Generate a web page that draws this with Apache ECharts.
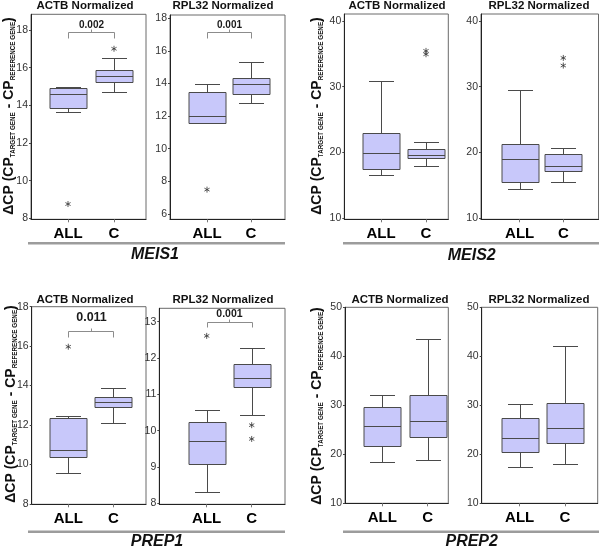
<!DOCTYPE html>
<html><head><meta charset="utf-8">
<script src="https://cdn.jsdelivr.net/npm/echarts@6/dist/echarts.min.js"></script>
<style>html,body{margin:0;padding:0;background:#fff}#c{width:600px;height:550px}</style>
</head><body><div id="c"></div>
<script>
// ---------- DATA ----------
const categories = ['ALL', 'C'];
const genes = ['MEIS1', 'MEIS2', 'PREP1', 'PREP2'];
const refTitles = ['ACTB Normalized', 'RPL32 Normalized'];

// box values per category: [min, Q1, median, Q3, max]
const meis1ActbBoxes  = [[13.66, 13.88, 14.62, 14.93, 14.96], [14.69, 15.22, 15.54, 15.86, 16.50]];
const meis1Rpl32Boxes = [[11.58, 11.59, 11.99, 13.46, 13.97], [12.83, 13.34, 13.95, 14.34, 15.30]];
const meis2ActbBoxes  = [[16.58, 17.50, 19.93, 22.92, 30.93], [17.95, 19.17, 19.57, 20.44, 21.60]];
const meis2Rpl32Boxes = [[14.46, 15.42, 18.92, 21.20, 29.46], [15.42, 17.14, 17.85, 19.68, 20.59]];
const prep1ActbBoxes  = [[9.55, 10.36, 10.75, 12.37, 12.44], [12.09, 12.90, 13.19, 13.44, 13.88]];
const prep1Rpl32Boxes = [[8.30, 9.07, 9.72, 10.23, 10.58], [10.42, 11.21, 11.46, 11.84, 12.29]];
const prep2ActbBoxes  = [[18.50, 21.70, 25.85, 29.73, 32.04], [18.78, 23.61, 26.87, 32.04, 43.61]];
const prep2Rpl32Boxes = [[17.35, 20.41, 23.27, 27.48, 30.34], [18.10, 22.24, 25.37, 30.41, 42.04]];

// outliers: [category, value]
const meis1ActbOutliers  = [['ALL', 8.76], ['C', 17.0]];
const meis1Rpl32Outliers = [['ALL', 7.49]];
const meis2ActbOutliers  = [['C', 35.44], ['C', 34.93]];
const meis2Rpl32Outliers = [['C', 34.37], ['C', 33.21]];
const prep1ActbOutliers  = [['ALL', 15.97]];
const prep1Rpl32Outliers = [['ALL', 12.61], ['C', 10.15], ['C', 9.77]];
const prep2ActbOutliers  = [];
const prep2Rpl32Outliers = [];

// y axis extents and tick labels
const meis1ActbAxis  = [7.95, 18.83], meis1ActbTicks  = [8, 10, 12, 14, 16, 18];
const meis1Rpl32Axis = [5.67, 18.2],  meis1Rpl32Ticks = [6, 8, 10, 12, 14, 16, 18];
const meis2ActbAxis  = [9.8, 41.06],  meis2ActbTicks  = [10, 20, 30, 40];
const meis2Rpl32Axis = [9.8, 41.06],  meis2Rpl32Ticks = [10, 20, 30, 40];
const prep1ActbAxis  = [7.98, 18],    prep1ActbTicks  = [8, 10, 12, 14, 16, 18];
const prep1Rpl32Axis = [7.97, 13.37], prep1Rpl32Ticks = [8, 9, 10, 11, 12, 13];
const prep2ActbAxis  = [10, 50],      prep2ActbTicks  = [10, 20, 30, 40, 50];
const prep2Rpl32Axis = [10, 50],      prep2Rpl32Ticks = [10, 20, 30, 40, 50];

// p-value brackets: [label, bracket level, bracket end, label level]
const meis1ActbP  = ['0.002', 17.88, 17.59, 18.27];
const meis1Rpl32P = ['0.001', 17.14, 16.81, 17.55];
const prep1ActbP  = ['0.011', 16.77, 16.46, 17.44];
const prep1Rpl32P = ['0.001', 12.99, 12.86, 13.20];

// ---------- LAYOUT (pixels) ----------
const FONT = '"Liberation Sans", Arial, sans-serif';
const layout = [
  {frame: [31, 14.3, 146, 219.3],     centers: [68, 114],      title: [85, 6],   pFont: 10},
  {frame: [170, 15, 285, 219.3],      centers: [207, 251],     title: [223, 6],  pFont: 10},
  {frame: [344.3, 14, 448.3, 219.3],  centers: [381, 426],     title: [397, 6]},
  {frame: [481, 14, 598.5, 219.3],    centers: [519.7, 563.3], title: [539, 6]},
  {frame: [31.7, 306.7, 146, 504.3],  centers: [68.3, 113.3],  title: [85, 300], pFont: 12.5},
  {frame: [159.3, 308.3, 285, 504.3], centers: [206.7, 251.7], title: [223, 300], pFont: 10.5},
  {frame: [345, 307.3, 448.3, 503.3], centers: [382.3, 427.7], title: [400, 300]},
  {frame: [481.7, 307.3, 597.7, 503.3], centers: [519.7, 565], title: [539, 300]}
];
const panelData = [
  [meis1ActbBoxes, meis1ActbOutliers, meis1ActbAxis, meis1ActbTicks, meis1ActbP],
  [meis1Rpl32Boxes, meis1Rpl32Outliers, meis1Rpl32Axis, meis1Rpl32Ticks, meis1Rpl32P],
  [meis2ActbBoxes, meis2ActbOutliers, meis2ActbAxis, meis2ActbTicks, null],
  [meis2Rpl32Boxes, meis2Rpl32Outliers, meis2Rpl32Axis, meis2Rpl32Ticks, null],
  [prep1ActbBoxes, prep1ActbOutliers, prep1ActbAxis, prep1ActbTicks, prep1ActbP],
  [prep1Rpl32Boxes, prep1Rpl32Outliers, prep1Rpl32Axis, prep1Rpl32Ticks, prep1Rpl32P],
  [prep2ActbBoxes, prep2ActbOutliers, prep2ActbAxis, prep2ActbTicks, null],
  [prep2Rpl32Boxes, prep2Rpl32Outliers, prep2Rpl32Axis, prep2Rpl32Ticks, null]
];

const px = v => Math.round(v) + 0.5;
const LINE = '#4a4a4a';
function boxRender(params, api) {
  const k = api.value(0);
  const ys = [1, 2, 3, 4, 5].map(d => api.coord([k, api.value(d)])[1]);
  const cx = px(api.coord([k, api.value(1)])[0]);
  const [lo, q1, md, q3, hi] = ys.map(px);
  const bw = 37, cw = 25;
  const ls = {stroke: LINE, lineWidth: 1};
  return {type: 'group', children: [
    {type: 'line', shape: {x1: cx, y1: hi, x2: cx, y2: q3}, style: ls},
    {type: 'line', shape: {x1: cx, y1: q1, x2: cx, y2: lo}, style: ls},
    {type: 'line', shape: {x1: cx - cw / 2, y1: hi, x2: cx + cw / 2, y2: hi}, style: ls},
    {type: 'line', shape: {x1: cx - cw / 2, y1: lo, x2: cx + cw / 2, y2: lo}, style: ls},
    {type: 'rect', shape: {x: cx - bw / 2, y: q3, width: bw, height: q1 - q3}, style: {fill: '#c8c8fa', stroke: LINE, lineWidth: 1}},
    {type: 'line', shape: {x1: cx - bw / 2, y1: md, x2: cx + bw / 2, y2: md}, style: ls}
  ]};
}
function bracketRender(label, fontSize) {
  return function (params, api) {
    const a = api.coord([0, api.value(1)]), b = api.coord([1, api.value(1)]);
    const y = px(a[1]);
    const e = px(api.coord([0, api.value(2)])[1]);
    const t = api.coord([0, api.value(3)])[1];
    const x0 = px(a[0]), x1 = px(b[0]), mx = px((a[0] + b[0]) / 2);
    const st = {stroke: '#8c8c8c', lineWidth: 1, fill: 'none'};
    return {type: 'group', children: [
      {type: 'polyline', shape: {points: [[x0, e], [x0, y], [x1, y], [x1, e]]}, style: st},
      {type: 'line', shape: {x1: mx, y1: y, x2: mx, y2: y - 3}, style: st},
      {type: 'text', x: mx, y: t, style: {text: label, fontSize: fontSize, fontWeight: 'bold', fontFamily: FONT, fill: '#1a1a1a', align: 'center', verticalAlign: 'middle'}}
    ]};
  };
}

const grid = [], xAxis = [], yAxis = [], series = [], graphic = [];
const asterisk = 'path://M5,0L5,10M0.67,2.5L9.33,7.5M0.67,7.5L9.33,2.5';

panelData.forEach((pd, i) => {
  const [boxes, outs, ext, ticks, p] = pd;
  const L = layout[i];
  const [l, t, r, b] = L.frame;
  const s = L.centers[1] - L.centers[0];
  grid.push({left: l, top: t, width: r - l, height: b - t, show: true, borderColor: '#6a6a6a', borderWidth: 1, backgroundColor: 'transparent', containLabel: false});
  grid.push({left: L.centers[0] - s / 2, top: t, width: 2 * s, height: b - t});
  const fi = 2 * i, di = 2 * i + 1;
  xAxis.push({gridIndex: fi, type: 'category', data: categories, axisLine: {show: true, lineStyle: {color: '#222'}}, axisTick: {show: false}, axisLabel: {show: false}, splitLine: {show: false}});
  xAxis.push({gridIndex: di, type: 'category', data: categories, boundaryGap: true,
    axisLine: {show: false}, axisTick: {show: true, alignWithLabel: true, length: 3, lineStyle: {color: '#777'}},
    axisLabel: {fontSize: 15, fontWeight: 'bold', color: '#000', fontFamily: FONT, margin: 7}, splitLine: {show: false}});
  yAxis.push({gridIndex: fi, type: 'value', min: ext[0], max: ext[1],
    axisLine: {show: true, lineStyle: {color: '#222'}},
    axisTick: {show: true, length: 2, customValues: ticks, lineStyle: {color: '#444'}},
    axisLabel: {customValues: ticks, fontSize: 10.5, color: '#333', fontFamily: '"Liberation Sans Narrow", ' + FONT, margin: 3},
    splitLine: {show: false}});
  yAxis.push({gridIndex: di, type: 'value', min: ext[0], max: ext[1], show: false, splitLine: {show: false}});
  series.push({type: 'custom', xAxisIndex: di, yAxisIndex: di, renderItem: boxRender,
    encode: {x: 0, y: [1, 2, 3, 4, 5]}, data: boxes.map((bx, k) => [k].concat(bx)), silent: true});
  if (outs.length) series.push({type: 'scatter', xAxisIndex: di, yAxisIndex: di, data: outs, symbol: asterisk, symbolSize: 6, symbolKeepAspect: true,
    itemStyle: {color: 'rgba(0,0,0,0)', borderColor: '#333', borderWidth: 1}, silent: true});
  if (p) series.push({type: 'custom', xAxisIndex: di, yAxisIndex: di, renderItem: bracketRender(p[0], L.pFont),
    encode: {x: 0, y: [1, 2, 3]}, data: [[0, p[1], p[2], p[3]]], silent: true});
  graphic.push({type: 'text', x: L.title[0], y: L.title[1], style: {text: refTitles[i % 2], fontSize: 11.5, fontWeight: 'bold', fontFamily: FONT, fill: '#111', align: 'center', verticalAlign: 'middle'}});
});

// gene group decorations
const groupDeco = [
  {line: [28, 285, 243.3], name: [155, 255], title: [7, 116]},
  {line: [343, 599, 243.3], name: [471.7, 256], title: [315, 116]},
  {line: [28, 285, 531.7], name: [157, 541.7], title: [9, 404]},
  {line: [343, 599, 531.7], name: [471.7, 541.7], title: [315, 406]}
];
groupDeco.forEach((g, i) => {
  graphic.push({type: 'line', shape: {x1: g.line[0], y1: g.line[2], x2: g.line[1], y2: g.line[2]}, style: {stroke: '#9c9c9c', lineWidth: 2.5}});
  graphic.push({type: 'text', x: g.name[0], y: g.name[1], style: {text: genes[i], fontSize: 16, fontWeight: 'bold', fontStyle: 'italic', fontFamily: FONT, fill: '#111', align: 'center', verticalAlign: 'middle'}});
  graphic.push({type: 'text', x: g.title[0], y: g.title[1], rotation: Math.PI / 2, style: {
    text: '{a|ΔCP (CP}{b|TARGET GENE}{a| - CP}{b|REFERENCE GENE}{a|)}',
    align: 'center', verticalAlign: 'middle',
    rich: {
      a: {fontSize: 14, fontWeight: 'bold', fontFamily: FONT, fill: '#111', lineHeight: 18, verticalAlign: 'bottom'},
      b: {fontSize: 6.3, fontWeight: 'bold', fontFamily: FONT, fill: '#111', lineHeight: 6, verticalAlign: 'bottom'}
    }
  }});
});

const chart = echarts.init(document.getElementById('c'), null, {renderer: 'canvas'});
chart.setOption({animation: false, backgroundColor: '#fff', grid, xAxis, yAxis, series, graphic});
</script></body></html>
